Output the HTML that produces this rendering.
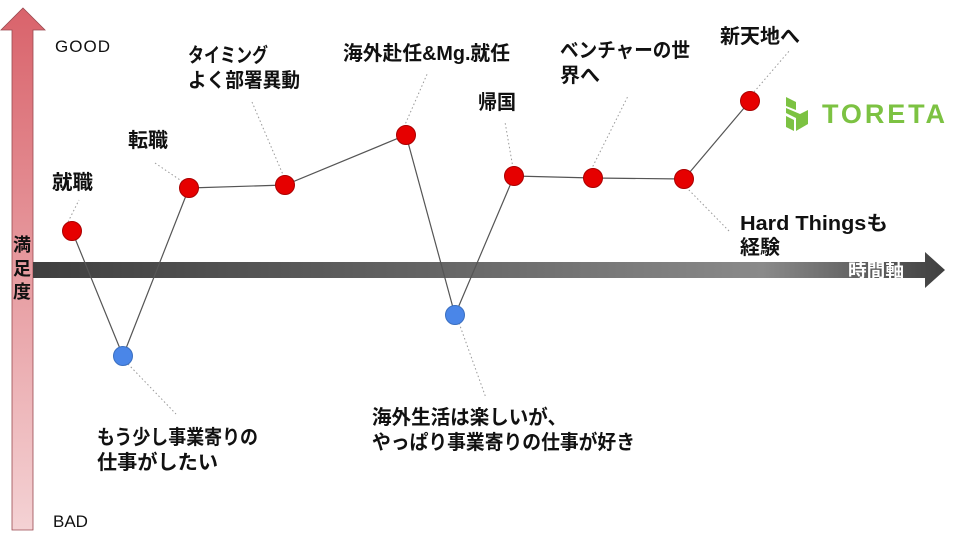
<!DOCTYPE html>
<html><head><meta charset="utf-8"><style>
body{margin:0;background:#fff}
text{font-family:"Liberation Sans","Noto Sans CJK JP",sans-serif}
.b{font-weight:bold;font-size:20px;fill:#111}
</style></head><body>
<svg width="960" height="540" xmlns="http://www.w3.org/2000/svg">
<defs>
<linearGradient id="v" x1="0" y1="0" x2="0" y2="1">
<stop offset="0" stop-color="#d9636b"/><stop offset="1" stop-color="#f4d2d4"/></linearGradient>
<linearGradient id="h" x1="0" y1="0" x2="1" y2="0">
<stop offset="0" stop-color="#3f3f3f"/><stop offset="0.45" stop-color="#666"/><stop offset="0.8" stop-color="#8a8a8a"/><stop offset="1" stop-color="#3f3f3f"/></linearGradient>
</defs>
<polygon points="23,8 45,30 33,30 33,530 12,530 12,30 1,30" fill="url(#v)" stroke="#9a4a50" stroke-width="0.8"/>
<polygon points="33,262 925,262 925,252 945,270 925,288 925,278 33,278" fill="url(#h)"/>
<text x="848" y="277" font-size="18" font-weight="bold" fill="#fff" textLength="56" lengthAdjust="spacingAndGlyphs">時間軸</text>
<text x="13" y="251" font-weight="bold" font-size="18" fill="#111">満</text>
<text x="13" y="275" font-weight="bold" font-size="18" fill="#111">足</text>
<text x="13" y="298" font-weight="bold" font-size="18" fill="#111">度</text>
<text x="55" y="52" font-size="17" fill="#111" textLength="55">GOOD</text>
<text x="53" y="527" font-size="17" fill="#111">BAD</text>
<g stroke="#999" stroke-width="1" stroke-dasharray="1.5,2.5" fill="none">
<path d="M68,222 L79,200"/><path d="M155,163 L183,182"/><path d="M284,177 L252,102"/>
<path d="M404,127 L428,72"/><path d="M513,168 L505,122"/><path d="M591,170 L628,96"/>
<path d="M754,92 L790,50"/><path d="M686,187 L730,232"/><path d="M128,364 L176,414"/>
<path d="M459,323 L486,398"/>
</g>
<polyline points="72,231 123,356 189,188 285,185 406,135 455,315 514,176 593,178 684,179 750,101" fill="none" stroke="#555" stroke-width="1.2"/>
<g stroke="#a00" stroke-width="1" fill="#e60000">
<circle cx="72" cy="231" r="9.5"/><circle cx="189" cy="188" r="9.5"/><circle cx="285" cy="185" r="9.5"/>
<circle cx="406" cy="135" r="9.5"/><circle cx="514" cy="176" r="9.5"/><circle cx="593" cy="178" r="9.5"/>
<circle cx="684" cy="179" r="9.5"/><circle cx="750" cy="101" r="9.5"/></g>
<g stroke="#3a6fc0" stroke-width="1" fill="#4a86e8">
<circle cx="123" cy="356" r="9.5"/><circle cx="455" cy="315" r="9.5"/></g>
<g class="b" lengthAdjust="spacingAndGlyphs">
<text x="52" y="189" class="b" textLength="41" lengthAdjust="spacingAndGlyphs">就職</text>
<text x="128" y="147" class="b" textLength="40" lengthAdjust="spacingAndGlyphs">転職</text>
<text x="188" y="62" class="b" textLength="80" lengthAdjust="spacingAndGlyphs">タイミング</text>
<text x="188" y="87" class="b" textLength="112" lengthAdjust="spacingAndGlyphs">よく部署異動</text>
<text x="343" y="60" class="b" textLength="167" lengthAdjust="spacingAndGlyphs">海外赴任&amp;Mg.就任</text>
<text x="478" y="109" class="b" textLength="38" lengthAdjust="spacingAndGlyphs">帰国</text>
<text x="560" y="57" class="b" textLength="130" lengthAdjust="spacingAndGlyphs">ベンチャーの世</text>
<text x="560" y="82" class="b" textLength="40" lengthAdjust="spacingAndGlyphs">界へ</text>
<text x="720" y="43" class="b" textLength="80" lengthAdjust="spacingAndGlyphs">新天地へ</text>
<text x="740" y="230" class="b" textLength="148" lengthAdjust="spacingAndGlyphs">Hard Thingsも</text>
<text x="740" y="254" class="b" textLength="40" lengthAdjust="spacingAndGlyphs">経験</text>
<text x="97" y="444" class="b" textLength="161" lengthAdjust="spacingAndGlyphs">もう少し事業寄りの</text>
<text x="97" y="469" class="b" textLength="121" lengthAdjust="spacingAndGlyphs">仕事がしたい</text>
<text x="372" y="424" class="b" textLength="195" lengthAdjust="spacingAndGlyphs">海外生活は楽しいが、</text>
<text x="372" y="449" class="b" textLength="263" lengthAdjust="spacingAndGlyphs">やっぱり事業寄りの仕事が好き</text>
</g>
<g fill="#7cc242">
<polygon points="786,97 796,102 796,110 786,106"/>
<polygon points="786,108 800,114 808,110 808,124 796,131 796,118 786,113"/>
<polygon points="786,116 794,120 794,131 786,127"/>
</g>
<text x="822" y="123" font-size="27" font-weight="bold" fill="#7cc242" textLength="123">TORETA</text>
</svg>
</body></html>
